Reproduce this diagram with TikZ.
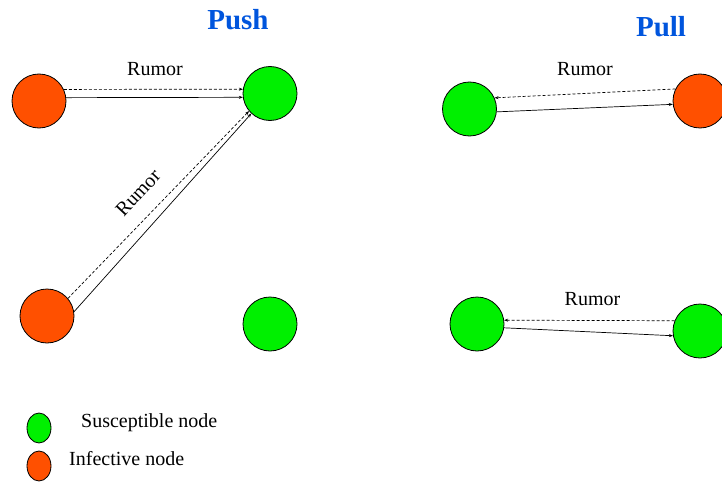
\documentclass[tikz,border=0pt]{standalone}
\usepackage{fontspec}
\setmainfont{Liberation Serif}
\usetikzlibrary{arrows.meta,shapes.geometric}
\definecolor{infect}{RGB}{255,80,0}
\definecolor{suscept}{RGB}{0,240,0}
\definecolor{titleblue}{RGB}{0,85,221}
\tikzset{
  nd/.style={circle,draw=black,line width=0.8pt,minimum size=54pt,inner sep=0pt},
  inf/.style={nd,fill=infect},
  sus/.style={nd,fill=suscept},
  leg/.style={ellipse,draw=black,line width=0.8pt,minimum width=24pt,minimum height=30pt,inner sep=0pt},
  msg/.style={line width=0.7pt,-{Stealth[length=4pt,width=3pt]}},
  rumdash/.style={msg,dash pattern=on 3pt off 2pt},
  lbl/.style={font=\fontsize{20pt}{24pt}\selectfont,inner sep=0pt},
  ttl/.style={font=\fontsize{29pt}{34pt}\selectfont\bfseries,text=titleblue,inner sep=0pt}
}
\begin{document}
\begin{tikzpicture}[x=1pt,y=-1pt]
\useasboundingbox (0,0) rectangle (722,484);
\clip (0,0) rectangle (722,484);
% titles
\node[ttl,anchor=base] (tpush) at (238,30) {Push};
\node[ttl,anchor=base] (tpull) at (661,36.7) {Pull};
% push nodes
\node[inf] (o1) at (39,101) {};
\node[sus] (g1) at (270,93.5) {};
\node[inf] (o2) at (47,316) {};
\node[sus] (g2) at (270,324) {};
% pull nodes
\node[sus] (g3) at (469.5,109) {};
\node[inf] (o3) at (700,101) {};
\node[sus] (g4) at (477,324) {};
\node[sus] (g5) at (700,331) {};
% push connectors
\draw[rumdash] (o1.25.7) -- (g1.171);
\draw[msg] (o1.7.9) -- (g1.188);
\draw[rumdash] (o2.40) -- (g1.220);
\draw[msg] (o2.9) -- (g1.227);
\node[lbl,anchor=base] (r1) at (155,75.7) {Rumor};
\node[lbl,rotate=47] (r2) at (138,193) {Rumor};
% pull connectors
\draw[rumdash] (o3.154) -- (g3.24);
\draw[msg] (g3.-6) -- (o3.187);
\draw[rumdash] (g5.158) -- (g4.8.5);
\draw[msg] (g4.-8.5) -- (g5.190.5);
\node[lbl,anchor=base] (r3) at (585,75.7) {Rumor};
\node[lbl,anchor=base] (r4) at (592.5,305) {Rumor};
% legend
\node[leg,fill=suscept] (lg) at (39,428) {};
\node[leg,fill=infect] (lo) at (39,466) {};
\node[lbl,anchor=base west] (ls) at (81,427.3) {Susceptible node};
\node[lbl,anchor=base west] (li) at (69,465.3) {Infective node};
\end{tikzpicture}
\end{document}
